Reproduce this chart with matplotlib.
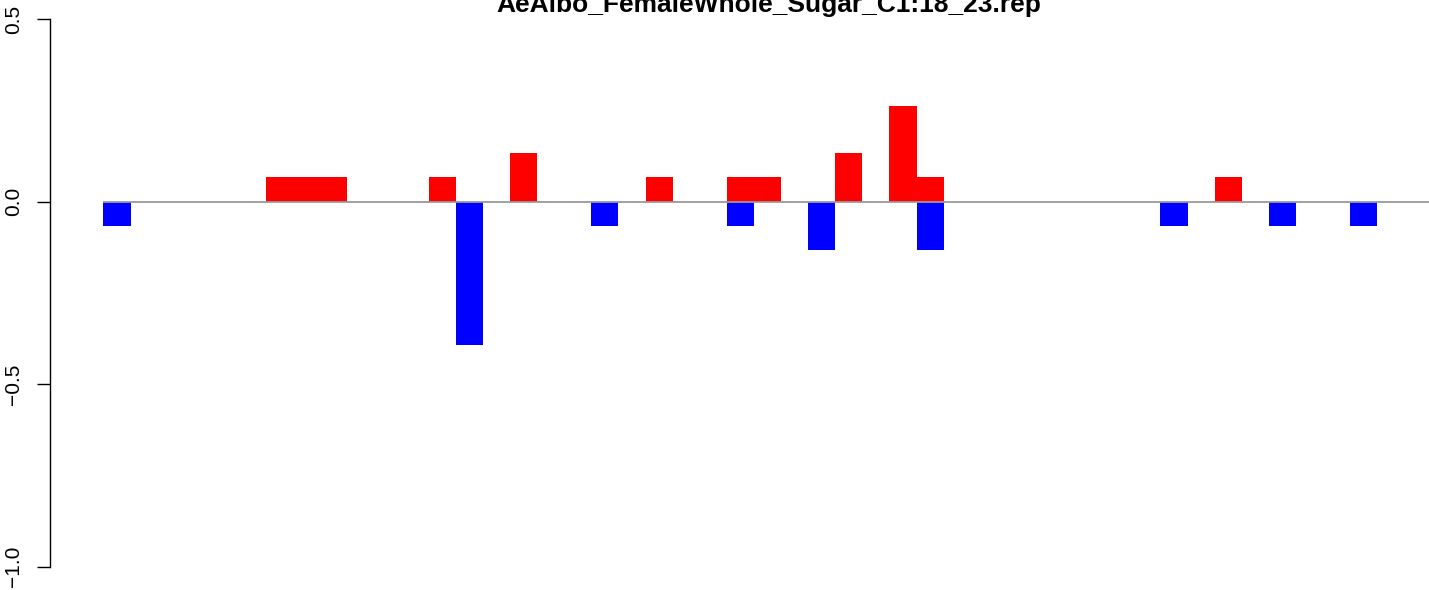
""" @file plot.py

    Bar plot of up/down replicate scores, drawn in the style of an R barplot.
"""

import matplotlib
matplotlib.use("Agg")
from matplotlib import pyplot as plt

TITLE = "AeAlbo_FemaleWhole_Sugar_C1:18_23.rep"

# Positions of the bars (one unit per slot) and their heights
red_positions = [6, 7, 8, 12, 15, 20, 23, 24, 27, 29, 30, 41]
red_values = [0.066, 0.066, 0.066, 0.066, 0.132, 0.066, 0.066, 0.066, 0.132, 0.263, 0.066, 0.066]

blue_positions = [0, 13, 18, 23, 26, 30, 39, 43, 46]
blue_values = [-0.066, -0.394, -0.066, -0.066, -0.132, -0.132, -0.066, -0.066, -0.066]

y_ticks = [-1.0, -0.5, 0.0, 0.5]
y_tick_labels = ["-1.0", "-0.5", "0.0", "0.5"]

FIG_W, FIG_H, DPI = 1429, 590, 100
TITLE_FONTSIZE = 19
TICK_FONTSIZE = 15
FONT = "Liberation Sans"

# Pixel geometry of the plotting region
AXIS_X = 50
Y_TOP, Y_BOTTOM = 19, 566.5
SLOT_PX = 27.1
FIRST_BAR_X = 103.5
X_MIN = -(FIRST_BAR_X - AXIS_X) / SLOT_PX
X_MAX = 52

fig = plt.figure(figsize=(FIG_W / DPI, FIG_H / DPI), dpi=DPI)

ax_left = AXIS_X / FIG_W
ax_width = (X_MAX - X_MIN) * SLOT_PX / FIG_W
ax_bottom = (FIG_H - Y_BOTTOM) / FIG_H
ax_height = (Y_BOTTOM - Y_TOP) / FIG_H
ax = fig.add_axes([ax_left, ax_bottom, ax_width, ax_height])

ax.bar(red_positions, red_values, width=1.0, align="edge", color="#FF0000", linewidth=0)
ax.bar(blue_positions, blue_values, width=1.0, align="edge", color="#0000FF", linewidth=0)

# Zero line
ax.hlines(0, 0, X_MAX, color="#999999", linewidth=1.3, zorder=3)

ax.set_xlim(X_MIN, X_MAX)
ax.set_ylim(-1.0, 0.5)

for side in ("top", "right", "bottom"):
    ax.spines[side].set_visible(False)
ax.spines["left"].set_linewidth(1.0)
ax.spines["left"].set_bounds(-1.0, 0.5)

ax.set_xticks([])
ax.set_yticks(y_ticks)
ax.set_yticklabels([lab.replace("-", "\u2212") for lab in y_tick_labels],
                   rotation=90, va="center", fontsize=TICK_FONTSIZE, family=FONT)
ax.tick_params(axis="y", length=9.4, width=1.0, pad=10)

fig.text((495 + 1042) / 2 / FIG_W, 1 - 12 / FIG_H, TITLE, ha="center", va="baseline",
         fontsize=TITLE_FONTSIZE, fontweight="bold", family=FONT)

fig.savefig("out.png", dpi=DPI)
